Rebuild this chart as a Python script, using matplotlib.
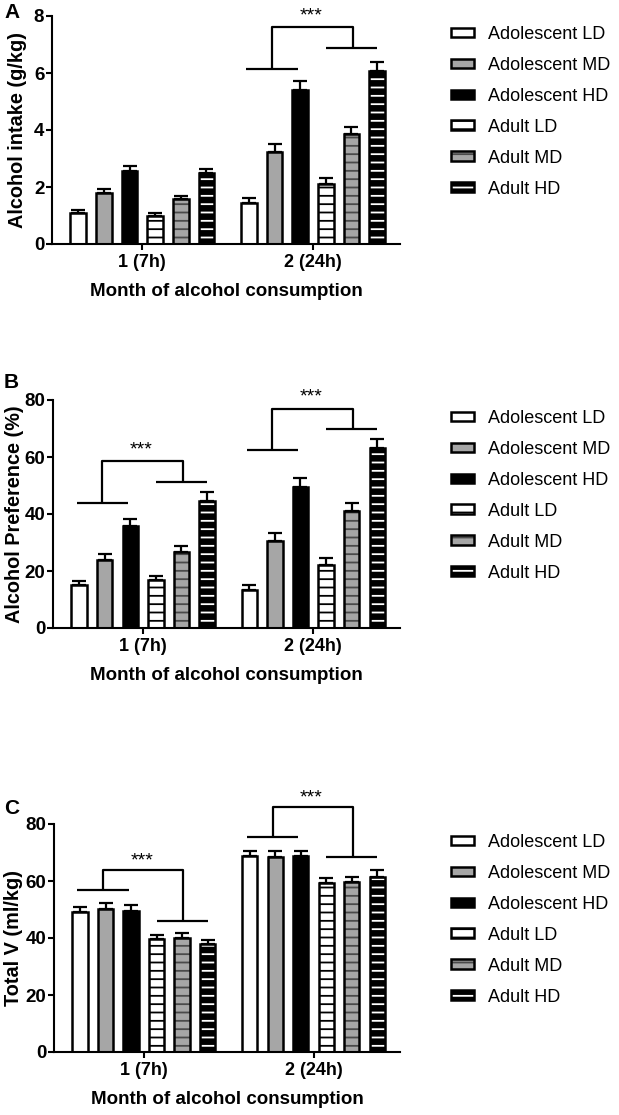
import matplotlib
matplotlib.use("Agg")
import matplotlib.pyplot as plt
import numpy as np

plt.rcParams['font.family'] = ['Liberation Sans', 'DejaVu Sans']
plt.rcParams['hatch.linewidth'] = 1.3

groups = ["1 (7h)", "2 (24h)"]
labels = ["Adolescent LD", "Adolescent MD", "Adolescent HD",
          "Adult LD", "Adult MD", "Adult HD"]

# panel A - alcohol intake (g/kg)
intake_mean = [[1.10, 1.78, 2.57, 1.00, 1.57, 2.50],
               [1.43, 3.23, 5.40, 2.10, 3.86, 6.08]]
intake_sem = [[0.10, 0.14, 0.18, 0.10, 0.11, 0.13],
              [0.19, 0.27, 0.32, 0.20, 0.24, 0.32]]
# panel B - alcohol preference (%)
pref_mean = [[15.0, 23.8, 35.8, 16.7, 26.7, 44.6],
             [13.5, 30.7, 49.3, 22.2, 41.1, 63.2]]
pref_sem = [[1.5, 2.0, 2.3, 1.7, 2.2, 3.2],
            [1.7, 2.7, 3.2, 2.5, 2.8, 3.0]]
# panel C - total volume (ml/kg)
vol_mean = [[49.0, 50.2, 49.4, 39.6, 40.0, 37.9],
            [68.7, 68.4, 68.7, 59.2, 59.5, 61.5]]
vol_sem = [[1.9, 2.1, 2.2, 1.6, 1.6, 1.5],
           [1.9, 2.0, 1.7, 1.7, 1.9, 2.4]]

# significance brackets: (group, left line y, right line y, top y, star y)
intake_sig = [(1, 6.14, 6.87, 7.6, 8.0)]
pref_sig = [(0, 43.7, 51.3, 58.7, 62.4), (1, 62.6, 69.7, 76.8, 80.9)]
vol_sig = [(0, 56.7, 45.8, 63.7, 66.9), (1, 75.4, 68.4, 86.0, 89.1)]

faces = ["white", "#a6a6a6", "black", "white", "#a6a6a6", "black"]
hatch_cols = [None, None, None, "black", "#4a4a4a", "white"]

group_x = np.array([0, 6.65])
offsets = np.arange(6) - 2.5
width = 0.6

fig = plt.figure(figsize=(6.19, 11.15), dpi=100)
H = 1115.0
W = 619.0


def panel(top_px, left_px, means, sems, sig, ylim, yticks, ylabel, letter,
          letter_px, ylab_px):
    aw = 400 - left_px
    ax = fig.add_axes([left_px / W, 1 - (top_px + 228) / H, aw / W, 228 / H])
    handles = []
    for i in range(6):
        xs = group_x + offsets[i]
        vals = [means[0][i], means[1][i]]
        errs = [sems[0][i], sems[1][i]]
        ax.errorbar(xs, vals, yerr=[[0, 0], errs], fmt="none", ecolor="black",
                    elinewidth=1.6, capsize=5, capthick=1.6, zorder=1)
        if hatch_cols[i] is None:
            b = ax.bar(xs, vals, width, color=faces[i], edgecolor="black",
                       linewidth=1.8, zorder=2)
            handles.append(b[0])
        else:
            b1 = ax.bar(xs, vals, width, color=faces[i], edgecolor=hatch_cols[i],
                        hatch="--", linewidth=0, zorder=2)
            b2 = ax.bar(xs, vals, width, fill=False, edgecolor="black",
                        linewidth=1.8, zorder=3)
            handles.append((b1[0], b2[0]))

    for g, yl, yr, yt, ys in sig:
        c = group_x[g]
        kw = dict(color="black", lw=1.6, clip_on=False, solid_capstyle="butt")
        ax.plot([c - 2.6, c - 0.6], [yl, yl], **kw)
        ax.plot([c + 0.5, c + 2.5], [yr, yr], **kw)
        ax.plot([c - 1.6, c - 1.6, c + 1.55, c + 1.55], [yl, yt, yt, yr], **kw)
        ax.text(c - 0.08, ys, "***", ha="center", va="center", fontsize=14)

    ax.set_xlim(-3.52, 10.04)
    ax.set_ylim(*ylim)
    ax.set_yticks(yticks)
    ax.set_xticks(group_x)
    ax.set_xticklabels(groups, fontsize=13, fontweight="bold")
    for t in ax.get_yticklabels():
        t.set_fontsize(13.5)
        t.set_fontweight("bold")
    ax.spines["top"].set_visible(False)
    ax.spines["right"].set_visible(False)
    ax.spines["left"].set_linewidth(1.5)
    ax.spines["bottom"].set_linewidth(1.5)
    ax.tick_params(width=1.5, length=4)
    ax.tick_params(axis="y", pad=1.5)
    ax.set_ylabel(ylabel, fontsize=14.3, fontweight="bold")
    ax.yaxis.set_label_coords((ylab_px - left_px) / aw, 0.5)
    ax.set_xlabel("Month of alcohol consumption", fontsize=13.5, fontweight="bold",
                  labelpad=8)
    fig.text(4 / W, 1 - letter_px / H, letter, fontsize=15, fontweight="bold",
             ha="left", va="center")
    ax.legend(handles, labels, loc="upper left", frameon=False, fontsize=13,
              bbox_to_anchor=(451 / W, 1 - (top_px + 10) / H),
              bbox_transform=fig.transFigure, borderaxespad=0, borderpad=0,
              handlelength=1.26, handleheight=0.45, handletextpad=0.8,
              labelspacing=0.77)
    return ax


panel(16, 52, intake_mean, intake_sem, intake_sig, (0, 8), [0, 2, 4, 6, 8],
      "Alcohol intake (g/kg)", "A", 13, 27)
panel(400, 53, pref_mean, pref_sem, pref_sig, (0, 80), [0, 20, 40, 60, 80],
      "Alcohol Preference (%)", "B", 382, 24)
panel(824, 54, vol_mean, vol_sem, vol_sig, (0, 80), [0, 20, 40, 60, 80],
      "Total V (ml/kg)", "C", 809, 23)

fig.savefig("out.png", dpi=100)
plt.close()
